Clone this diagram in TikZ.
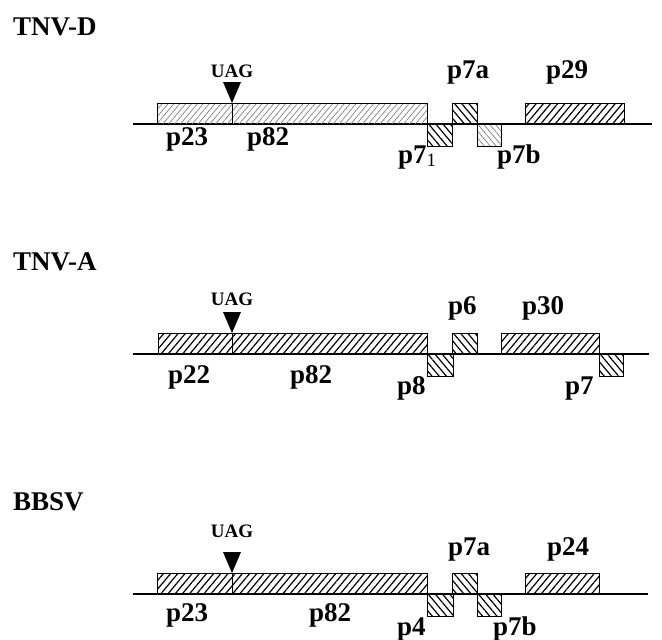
\documentclass[tikz,border=0pt]{standalone}
\usepackage{fontspec}
\setmainfont{Liberation Serif}
\usetikzlibrary{patterns.meta}

\begin{document}
\begin{tikzpicture}[
  x=1pt, y=-1pt,
  orf/.style={draw, line width=1pt, inner sep=0pt, outer sep=0pt},
  up/.style={orf, anchor=south west, minimum height=21pt},
  down/.style={orf, anchor=north west, minimum height=22pt},
  fwlight/.style={pattern={Lines[angle=50,distance=4.5pt,line width=0.7pt]}, pattern color=black!50},
  fwdark/.style={pattern={Lines[angle=50,distance=5.5pt,line width=1.2pt]}, pattern color=black},
  bwlight/.style={pattern={Lines[angle=-50,distance=4.5pt,line width=0.7pt]}, pattern color=black!50},
  bwdark/.style={pattern={Lines[angle=-50,distance=5.5pt,line width=1.2pt]}, pattern color=black},
  genome/.style={line width=1.3pt},
  lbl/.style={font=\bfseries\fontsize{27}{27}\selectfont, inner sep=0pt, anchor=base west},
  title/.style={font=\bfseries\fontsize{27}{27}\selectfont, inner sep=0pt, anchor=base west},
  uag/.style={font=\bfseries\fontsize{19}{19}\selectfont, inner sep=0pt, anchor=base}
]
  \useasboundingbox (0,0) rectangle (662,640);

  % TNV-D
  \node[title] (D) at (13,35) {TNV-D};
  \coordinate (D5) at (133,124);
  \coordinate (D3) at (652,124);
  \draw[genome] (D5) -- (D3);
  \node[up, fwlight, minimum width=270] (Dorf1) at (157,124) {};
  \node[down, bwdark, minimum width=25] (Dp71) at (427,124) {};
  \node[up, bwdark, minimum width=25] (Dp7a) at (452,124) {};
  \node[down, bwlight, minimum width=24] (Dp7b) at (477,124) {};
  \node[up, fwdark, minimum width=99] (Dp29) at (525,124) {};
  \coordinate (Duag) at (232,103);
  \fill (Duag) -- ++(-9,-21) -- ++(18,0) -- cycle;
  \draw[line width=1pt] (Duag) -- (Duag |- Dorf1.south);
  \node[uag] (Dstop) at (232,77) {UAG};
  \node[lbl] (Dl23) at (166,145) {p23};
  \node[lbl] (Dl82) at (247,145) {p82};
  \node[lbl] (Dl71) at (398,163) {p7\textsubscript{\mdseries 1}};
  \node[lbl] (Dl7a) at (447,78) {p7a};
  \node[lbl] (Dl7b) at (497,163) {p7b};
  \node[lbl] (Dl29) at (546,78) {p29};

  % TNV-A
  \node[title] (A) at (13,270) {TNV-A};
  \coordinate (A5) at (133,354);
  \coordinate (A3) at (649,354);
  \draw[genome] (A5) -- (A3);
  \node[up, fwdark, minimum width=269] (Aorf1) at (158,354) {};
  \node[down, bwdark, minimum width=26] (Ap8) at (427,354) {};
  \node[up, bwdark, minimum width=25] (Ap6) at (452,354) {};
  \node[up, fwdark, minimum width=98] (Ap30) at (501,354) {};
  \node[down, bwdark, minimum width=24] (Ap7) at (599,354) {};
  \coordinate (Auag) at (232,333);
  \fill (Auag) -- ++(-9,-21) -- ++(18,0) -- cycle;
  \draw[line width=1pt] (Auag) -- (Auag |- Aorf1.south);
  \node[uag] (Astop) at (232,305) {UAG};
  \node[lbl] (Al22) at (168,383) {p22};
  \node[lbl] (Al82) at (290,383) {p82};
  \node[lbl] (Al8) at (397,394) {p8};
  \node[lbl] (Al6) at (448,314) {p6};
  \node[lbl] (Al30) at (522,314) {p30};
  \node[lbl] (Al7) at (565,394) {p7};

  % BBSV
  \node[title] (B) at (13,510) {BBSV};
  \coordinate (B5) at (133,594);
  \coordinate (B3) at (648,594);
  \draw[genome] (B5) -- (B3);
  \node[up, fwdark, minimum width=270] (Borf1) at (157,594) {};
  \node[down, bwdark, minimum width=26] (Bp4) at (427,594) {};
  \node[up, bwdark, minimum width=25] (Bp7a) at (452,594) {};
  \node[down, bwdark, minimum width=24] (Bp7b) at (477,594) {};
  \node[up, fwdark, minimum width=74] (Bp24) at (525,594) {};
  \coordinate (Buag) at (232,573);
  \fill (Buag) -- ++(-9,-21) -- ++(18,0) -- cycle;
  \draw[line width=1pt] (Buag) -- (Buag |- Borf1.south);
  \node[uag] (Bstop) at (232,537) {UAG};
  \node[lbl] (Bl23) at (166,621) {p23};
  \node[lbl] (Bl82) at (309,621) {p82};
  \node[lbl] (Bl4) at (397,635) {p4};
  \node[lbl] (Bl7a) at (448,555) {p7a};
  \node[lbl] (Bl7b) at (493,635) {p7b};
  \node[lbl] (Bl24) at (547,555) {p24};
\end{tikzpicture}
\end{document}
